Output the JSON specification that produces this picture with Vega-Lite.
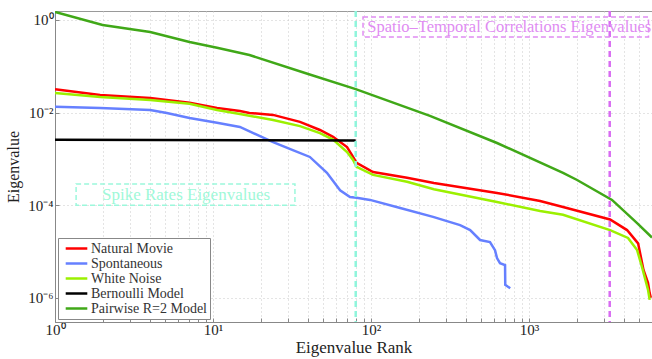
{
  "$schema": "https://vega.github.io/schema/vega-lite/v6.json",
  "width": 597,
  "height": 311,
  "autosize": {"type": "none"},
  "padding": {"left": 55, "top": 11, "right": 0, "bottom": 37},
  "background": "white",
  "config": {
    "font": "Liberation Serif",
    "view": {"stroke": "#9a9a9a", "strokeWidth": 1},
    "text": {"font": "Liberation Serif"},
    "legend": {"labelFont": "Liberation Serif"}
  },
  "datasets": {
    "curves": [
      {"series": "Natural Movie", "rank": 1, "value": 0.032},
      {"series": "Natural Movie", "rank": 1.93, "value": 0.024},
      {"series": "Natural Movie", "rank": 4, "value": 0.0207},
      {"series": "Natural Movie", "rank": 7.1, "value": 0.0162},
      {"series": "Natural Movie", "rank": 10.6, "value": 0.0126},
      {"series": "Natural Movie", "rank": 14.8, "value": 0.0108},
      {"series": "Natural Movie", "rank": 17, "value": 0.0098},
      {"series": "Natural Movie", "rank": 24, "value": 0.0089},
      {"series": "Natural Movie", "rank": 35.5, "value": 0.0063},
      {"series": "Natural Movie", "rank": 47.5, "value": 0.0042},
      {"series": "Natural Movie", "rank": 57.5, "value": 0.003},
      {"series": "Natural Movie", "rank": 70.5, "value": 0.0018},
      {"series": "Natural Movie", "rank": 77, "value": 0.0011},
      {"series": "Natural Movie", "rank": 81, "value": 0.00082},
      {"series": "Natural Movie", "rank": 103, "value": 0.00052},
      {"series": "Natural Movie", "rank": 169, "value": 0.00039},
      {"series": "Natural Movie", "rank": 250, "value": 0.0003},
      {"series": "Natural Movie", "rank": 627, "value": 0.000184},
      {"series": "Natural Movie", "rank": 1175, "value": 0.000123},
      {"series": "Natural Movie", "rank": 1641, "value": 0.000091},
      {"series": "Natural Movie", "rank": 3256, "value": 0.000049},
      {"series": "Natural Movie", "rank": 4170, "value": 0.000029},
      {"series": "Natural Movie", "rank": 4900, "value": 0.000015},
      {"series": "Natural Movie", "rank": 5300, "value": 0.000004},
      {"series": "Natural Movie", "rank": 5660, "value": 0.0000021},
      {"series": "Natural Movie", "rank": 5800, "value": 0.00000126},
      {"series": "Natural Movie", "rank": 5900, "value": 0.000001},
      {"series": "Spontaneous", "rank": 1, "value": 0.0133},
      {"series": "Spontaneous", "rank": 1.93, "value": 0.0126},
      {"series": "Spontaneous", "rank": 4, "value": 0.0114},
      {"series": "Spontaneous", "rank": 5.1, "value": 0.0098},
      {"series": "Spontaneous", "rank": 7.1, "value": 0.0076},
      {"series": "Spontaneous", "rank": 10.6, "value": 0.006},
      {"series": "Spontaneous", "rank": 14.8, "value": 0.0049},
      {"series": "Spontaneous", "rank": 24, "value": 0.0023},
      {"series": "Spontaneous", "rank": 32, "value": 0.00155},
      {"series": "Spontaneous", "rank": 41, "value": 0.0011},
      {"series": "Spontaneous", "rank": 52.6, "value": 0.0005},
      {"series": "Spontaneous", "rank": 63.7, "value": 0.00021},
      {"series": "Spontaneous", "rank": 73.6, "value": 0.00015},
      {"series": "Spontaneous", "rank": 81, "value": 0.000144},
      {"series": "Spontaneous", "rank": 98.6, "value": 0.00013},
      {"series": "Spontaneous", "rank": 153, "value": 0.000087},
      {"series": "Spontaneous", "rank": 247, "value": 0.000056},
      {"series": "Spontaneous", "rank": 366, "value": 0.000037},
      {"series": "Spontaneous", "rank": 424, "value": 0.000029},
      {"series": "Spontaneous", "rank": 490, "value": 0.0000177},
      {"series": "Spontaneous", "rank": 566, "value": 0.000016},
      {"series": "Spontaneous", "rank": 609, "value": 0.0000107},
      {"series": "Spontaneous", "rank": 627, "value": 0.0000072},
      {"series": "Spontaneous", "rank": 655, "value": 0.0000056},
      {"series": "Spontaneous", "rank": 705, "value": 0.0000051},
      {"series": "Spontaneous", "rank": 707, "value": 0.0000019},
      {"series": "Spontaneous", "rank": 760, "value": 0.0000016},
      {"series": "White Noise", "rank": 1, "value": 0.0265},
      {"series": "White Noise", "rank": 1.93, "value": 0.0217},
      {"series": "White Noise", "rank": 4, "value": 0.0187},
      {"series": "White Noise", "rank": 7.1, "value": 0.0155},
      {"series": "White Noise", "rank": 10.6, "value": 0.0114},
      {"series": "White Noise", "rank": 14.8, "value": 0.0093},
      {"series": "White Noise", "rank": 24, "value": 0.0069},
      {"series": "White Noise", "rank": 35.5, "value": 0.0051},
      {"series": "White Noise", "rank": 47.5, "value": 0.0036},
      {"series": "White Noise", "rank": 57.5, "value": 0.0026},
      {"series": "White Noise", "rank": 70.5, "value": 0.0014},
      {"series": "White Noise", "rank": 77, "value": 0.00095},
      {"series": "White Noise", "rank": 81, "value": 0.00067},
      {"series": "White Noise", "rank": 103, "value": 0.00045},
      {"series": "White Noise", "rank": 169, "value": 0.00032},
      {"series": "White Noise", "rank": 250, "value": 0.00022},
      {"series": "White Noise", "rank": 627, "value": 0.000117},
      {"series": "White Noise", "rank": 1175, "value": 0.000075},
      {"series": "White Noise", "rank": 1641, "value": 0.000062},
      {"series": "White Noise", "rank": 3256, "value": 0.000029},
      {"series": "White Noise", "rank": 4230, "value": 0.0000196},
      {"series": "White Noise", "rank": 4830, "value": 0.0000107},
      {"series": "White Noise", "rank": 5190, "value": 0.0000046},
      {"series": "White Noise", "rank": 5660, "value": 0.0000015},
      {"series": "White Noise", "rank": 5800, "value": 0.0000009},
      {"series": "Bernoulli Model", "rank": 1, "value": 0.0026},
      {"series": "Bernoulli Model", "rank": 80, "value": 0.0025},
      {"series": "Pairwise R=2 Model", "rank": 1, "value": 1.49},
      {"series": "Pairwise R=2 Model", "rank": 2, "value": 0.78},
      {"series": "Pairwise R=2 Model", "rank": 4, "value": 0.55},
      {"series": "Pairwise R=2 Model", "rank": 7.1, "value": 0.335},
      {"series": "Pairwise R=2 Model", "rank": 10.6, "value": 0.25},
      {"series": "Pairwise R=2 Model", "rank": 17, "value": 0.175},
      {"series": "Pairwise R=2 Model", "rank": 40, "value": 0.068},
      {"series": "Pairwise R=2 Model", "rank": 80, "value": 0.032},
      {"series": "Pairwise R=2 Model", "rank": 236, "value": 0.0085},
      {"series": "Pairwise R=2 Model", "rank": 627, "value": 0.0022},
      {"series": "Pairwise R=2 Model", "rank": 1641, "value": 0.0005},
      {"series": "Pairwise R=2 Model", "rank": 2014, "value": 0.00035},
      {"series": "Pairwise R=2 Model", "rank": 3350, "value": 0.00013},
      {"series": "Pairwise R=2 Model", "rank": 4830, "value": 0.000041},
      {"series": "Pairwise R=2 Model", "rank": 6000, "value": 0.00002}
    ],
    "spikeLine": [{"rank": 80}],
    "corrLine": [{"rank": 3240}],
    "spikeBox": [{"rank": 1.36, "rank2": 33, "value": 0.0001, "value2": 0.000287, "label": "Spike Rates Eigenvalues", "cx": 6.75, "cy": 0.000166}],
    "corrBox": [{"rank": 89, "rank2": 5700, "value": 0.43, "value2": 1.16, "label": "Spatio–Temporal Correlations Eigenvalues", "cx": 750, "cy": 0.7}]
  },
  "layer": [
    {
      "data": {"name": "curves"},
      "mark": {"type": "line", "strokeWidth": 2.5, "clip": true},
      "encoding": {
        "x": {
          "field": "rank", "type": "quantitative",
          "scale": {"type": "log", "domain": [1, 6000], "nice": false},
          "axis": {
            "title": "Eigenvalue Rank",
            "values": [1,2,3,4,5,6,7,8,9,10,20,30,40,50,60,70,80,90,100,200,300,400,500,600,700,800,900,1000,2000,3000,4000,5000,6000],
            "labelExpr": "datum.value == 1 ? '10⁰' : datum.value == 10 ? '10¹' : datum.value == 100 ? '10²' : datum.value == 1000 ? '10³' : ''",
            "labelOverlap": false,
            "labelFlush": false,
            "labelFont": "Liberation Serif",
            "labelFontSize": 15,
            "labelColor": "#222222",
            "labelPadding": 4,
            "tickSize": -4,
            "tickColor": "#888888",
            "domainColor": "#888888",
            "grid": true,
            "gridDash": [1, 3],
            "gridColor": "#c8c8c8",
            "titleFont": "Liberation Serif",
            "titleFontSize": 17,
            "titleFontWeight": "normal",
            "titleColor": "#222222",
            "titlePadding": 2
          }
        },
        "y": {
          "field": "value", "type": "quantitative",
          "scale": {"type": "log", "domain": [3e-7, 1.56], "nice": false},
          "axis": {
            "title": "Eigenvalue",
            "values": [1, 0.01, 0.0001, 0.000001],
            "labelExpr": "datum.value == 1 ? '10⁰' : datum.value == 0.01 ? '10⁻²' : datum.value == 0.0001 ? '10⁻⁴' : '10⁻⁶'",
            "labelFont": "Liberation Serif",
            "labelFontSize": 15,
            "labelColor": "#222222",
            "labelPadding": 6,
            "tickSize": -4,
            "tickColor": "#888888",
            "domainColor": "#888888",
            "grid": true,
            "gridDash": [1, 3],
            "gridColor": "#c8c8c8",
            "titleFont": "Liberation Serif",
            "titleFontSize": 16,
            "titleFontWeight": "normal",
            "titleColor": "#222222",
            "titlePadding": 6
          }
        },
        "color": {
          "field": "series", "type": "nominal",
          "scale": {
            "domain": ["Natural Movie", "Spontaneous", "White Noise", "Bernoulli Model", "Pairwise R=2 Model"],
            "range": ["#ff0000", "#6680ff", "#9bf000", "#000000", "#40a818"]
          },
          "legend": {
            "title": null,
            "orient": "bottom-left",
            "offset": 3,
            "symbolType": "M-1.8,0H1.8",
            "symbolSize": 144,
            "symbolStrokeWidth": 2.5,
            "symbolOffset": 8,
            "labelOffset": 7,
            "labelFont": "Liberation Serif",
            "labelFontSize": 14,
            "labelColor": "#333333",
            "labelLimit": 300,
            "rowPadding": 0,
            "padding": 3,
            "fillColor": "white",
            "strokeColor": "#888888"
          }
        }
      }
    },
    {
      "data": {"name": "spikeLine"},
      "mark": {"type": "rule", "color": "#90f5dc", "strokeWidth": 2.5, "strokeDash": [6, 4]},
      "encoding": {"x": {"field": "rank", "type": "quantitative", "title": "Eigenvalue Rank"}}
    },
    {
      "data": {"name": "corrLine"},
      "mark": {"type": "rule", "color": "#d86cf2", "strokeWidth": 2.5, "strokeDash": [6, 4]},
      "encoding": {"x": {"field": "rank", "type": "quantitative", "title": "Eigenvalue Rank"}}
    },
    {
      "data": {"name": "spikeBox"},
      "mark": {"type": "rect", "fill": null, "fillOpacity": 0, "stroke": "#9cf8dc", "strokeWidth": 1.5, "strokeDash": [5, 3]},
      "encoding": {
        "x": {"field": "rank", "type": "quantitative", "title": "Eigenvalue Rank"},
        "x2": {"field": "rank2"},
        "y": {"field": "value", "type": "quantitative", "title": "Eigenvalue"},
        "y2": {"field": "value2"}
      }
    },
    {
      "data": {"name": "spikeBox"},
      "mark": {"type": "text", "font": "Liberation Serif", "color": "#a0f8d8", "fontSize": 17, "align": "center", "baseline": "middle"},
      "encoding": {
        "x": {"field": "cx", "type": "quantitative", "title": "Eigenvalue Rank"},
        "y": {"field": "cy", "type": "quantitative", "title": "Eigenvalue"},
        "text": {"field": "label"}
      }
    },
    {
      "data": {"name": "corrBox"},
      "mark": {"type": "rect", "fill": null, "fillOpacity": 0, "stroke": "#e08cf2", "strokeWidth": 1.5, "strokeDash": [5, 3]},
      "encoding": {
        "x": {"field": "rank", "type": "quantitative", "title": "Eigenvalue Rank"},
        "x2": {"field": "rank2"},
        "y": {"field": "value", "type": "quantitative", "title": "Eigenvalue"},
        "y2": {"field": "value2"}
      }
    },
    {
      "data": {"name": "corrBox"},
      "mark": {"type": "text", "font": "Liberation Serif", "color": "#e08cf2", "fontSize": 16.5, "align": "center", "baseline": "middle"},
      "encoding": {
        "x": {"field": "cx", "type": "quantitative", "title": "Eigenvalue Rank"},
        "y": {"field": "cy", "type": "quantitative", "title": "Eigenvalue"},
        "text": {"field": "label"}
      }
    }
  ]
}
